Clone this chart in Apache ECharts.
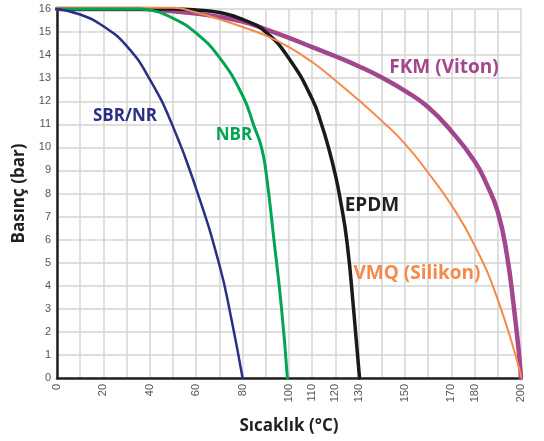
<!DOCTYPE html>
<html>
<head>
<meta charset="utf-8">
<script src="https://cdn.jsdelivr.net/npm/echarts@6/dist/echarts.min.js"></script>
<style>html,body{margin:0;padding:0;background:#fff}#c{width:544px;height:441px}</style>
</head>
<body>
<div id="c"></div>
<script>
const xTickLabels = [0, 20, 40, 60, 80, 100, 110, 120, 130, 150, 170, 180, 200];
const sbrNr = [[0,16],[10,15.76],[20,15.25],[30,14.4],[40,12.95],[50,10.9],[60,8.2],[70,4.9],[75,2.65],[80,0]];
const nbr = [[0,16],[35,16],[40,15.95],[50,15.6],[60,14.95],[70,13.9],[80,12.25],[85,10.9],[88,10.05],[90,9.0],[93.5,6.0],[96.8,3.0],[99.3,0]];
const epdm = [[0,16],[50,16],[60,15.96],[70,15.85],[80,15.55],[90,15.0],[100,13.85],[110,12.1],[114,11.0],[117,10.0],[120,8.8],[122,7.8],[125,5.9],[128,2.8],[130.4,0]];
const vmq = [[0,16.05],[50,16.05],[60,15.85],[70,15.55],[80,15.22],[90,14.85],[100,14.35],[110,13.7],[120,12.9],[130,12.05],[140,11.15],[150,10.15],[160,8.9],[170,7.5],[180,5.75],[190,3.4],[200.3,0]];
const fkm = [[0,16],[35,16],[50,15.9],[60,15.8],[70,15.65],[80,15.45],[90,15.12],[100,14.75],[110,14.35],[120,13.95],[130,13.52],[140,13.03],[150,12.45],[160,11.74],[170,10.7],[180,9.4],[185,8.45],[190,7.2],[194,5.3],[197,3.0],[199,1.2],[200,0]];

const chart = echarts.init(document.getElementById('c'));
const font = '"Open Sans", "DejaVu Sans", sans-serif';
function lbl(text, cx, cy, color, size) {
  return {type:'text', x:cx, y:cy, z:100,
    style:{text:text, fill:color, fontFamily:font, fontWeight:'bold', fontSize:size,
      align:'center', verticalAlign:'middle'}};
}
function line(name, data, color, width) {
  return {name:name, type:'line', data:data, smooth:0.5,
    showSymbol:false, clip:false, lineStyle:{color:color, width:width, join:'round', cap:'round'}};
}
chart.setOption({
  animation: false,
  grid: {left:57, right:23, top:9, bottom:63},
  xAxis: {
    type:'value', min:0, max:200, interval:10,
    name:'Sıcaklık (°C)', nameLocation:'middle', nameGap:40,
    nameTextStyle:{fontFamily:font, fontWeight:'bold', fontSize:17, color:'#231f20'},
    axisLine:{show:true, onZero:false, lineStyle:{color:'#231f20', width:2.5}},
    axisTick:{show:false},
    axisLabel:{rotate:90, color:'#555', fontSize:11, fontFamily:'"Liberation Sans", Arial, sans-serif', margin:6,
      formatter: v => xTickLabels.indexOf(v) >= 0 ? String(v) : ''},
    splitLine:{show:true, lineStyle:{color:'#d4d4d4', width:1.5}}
  },
  yAxis: {
    type:'value', min:0, max:16, interval:1,
    name:'Basınç (bar)', nameLocation:'middle', nameGap:20,
    nameTextStyle:{fontFamily:font, fontWeight:'bold', fontSize:17, color:'#231f20'},
    axisLine:{show:true, lineStyle:{color:'#231f20', width:2.5}},
    axisTick:{show:false},
    axisLabel:{color:'#555', fontSize:11, fontFamily:'"Liberation Sans", Arial, sans-serif', margin:6},
    splitLine:{show:true, lineStyle:{color:'#d4d4d4', width:1.5}}
  },
  series: [
    line('FKM (Viton)', fkm, '#a2468e', 4.5),
    line('EPDM', epdm, '#1a1a1a', 3.5),
    line('VMQ (Silikon)', vmq, '#f58a4b', 2),
    line('NBR', nbr, '#00a651', 3),
    line('SBR/NR', sbrNr, '#2b2f85', 2.5)
  ],
  graphic: [
    lbl('SBR/NR', 125, 116, '#2b2f85', 17),
    lbl('NBR', 234, 135, '#00a651', 17),
    lbl('EPDM', 372, 206, '#231f20', 19),
    lbl('FKM (Viton)', 444, 68, '#a2468e', 19),
    lbl('VMQ (Silikon)', 417, 274, '#f58a4b', 19)
  ]
});
</script>
</body>
</html>
